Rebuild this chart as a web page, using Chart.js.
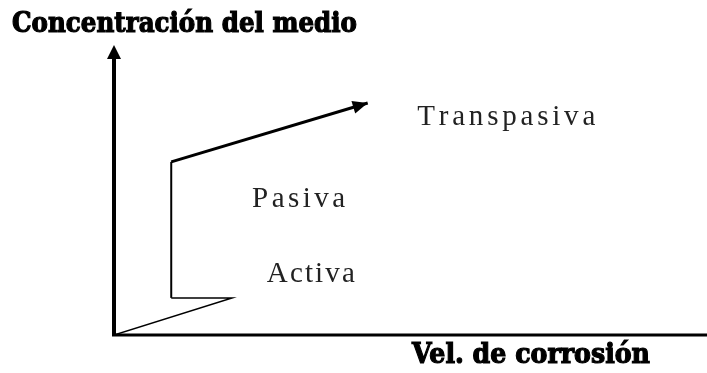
<!DOCTYPE html>
<html>
<head>
<meta charset="utf-8">
<script src="https://cdn.jsdelivr.net/npm/chart.js@4"></script>
<style>
  html, body { margin: 0; padding: 0; background: #fff; }
  canvas { display: block; }
</style>
</head>
<body>
<canvas id="chart" width="707" height="373"></canvas>
<script>
// curva de polarizacion (unidades arbitrarias, 0..100)
const velCorrosion = [0, 20, 9.7, 9.7, 43];
const concentracion = [0, 12.8, 12.8, 59.7, 80];
const zonas = ['Activa', 'Pasiva', 'Transpasiva'];
const zonaX = [25.9, 23.4, 51.4];
const zonaY = [18.3, 44.1, 72.4];
const tituloY = 'Concentración del medio';
const tituloX = 'Vel. de corrosión';

const puntos = velCorrosion.map((v, i) => ({x: v, y: concentracion[i]}));
const anchos = [1.5, 1.5, 2, 3];

function arrowHead(ctx, x, y, ang, len, w) {
  ctx.save();
  ctx.translate(x, y);
  ctx.rotate(ang);
  ctx.beginPath();
  ctx.moveTo(0, 0);
  ctx.lineTo(-len, -w / 2);
  ctx.lineTo(-len, w / 2);
  ctx.closePath();
  ctx.fillStyle = '#000';
  ctx.fill();
  ctx.restore();
}

// texto espaciado, ajustado a un ancho dado
function spacedText(ctx, txt, x, y, w) {
  const chars = [...txt];
  const nat = chars.reduce((s, ch) => s + ctx.measureText(ch).width, 0);
  const sp = (w - nat) / (chars.length - 1);
  for (const ch of chars) {
    ctx.fillText(ch, x, y);
    x += ctx.measureText(ch).width + sp;
  }
}

function fitText(ctx, txt, x, y, w) {
  const m = ctx.measureText(txt).width;
  ctx.save();
  ctx.translate(x, y);
  ctx.scale(w / m, 1);
  ctx.fillText(txt, 0, 0);
  ctx.strokeText(txt, 0, 0);
  ctx.restore();
}

const diagrama = {
  id: 'diagrama',
  beforeDatasetsDraw(chart) {
    const {ctx, chartArea: a} = chart;
    ctx.save();
    ctx.strokeStyle = '#000';
    // eje x
    ctx.lineWidth = 3;
    ctx.beginPath();
    ctx.moveTo(a.left - 2, a.bottom);
    ctx.lineTo(707, a.bottom);
    ctx.stroke();
    // eje y
    ctx.lineWidth = 4;
    ctx.beginPath();
    ctx.moveTo(a.left, a.bottom + 1);
    ctx.lineTo(a.left, a.top + 12);
    ctx.stroke();
    ctx.restore();
    arrowHead(ctx, a.left, a.top, -Math.PI / 2, 14, 14);
  },
  afterDatasetsDraw(chart) {
    const {ctx, scales: {x, y}} = chart;
    const pts = chart.getDatasetMeta(0).data;
    const p1 = pts[pts.length - 2], p2 = pts[pts.length - 1];
    const ang = Math.atan2(p2.y - p1.y, p2.x - p1.x);
    arrowHead(ctx, p2.x, p2.y, ang, 15, 13);

    const anchosZona = [88, 93, 178];
    ctx.save();
    ctx.fillStyle = '#222';
    ctx.textBaseline = 'alphabetic';
    ctx.font = '29px "Liberation Serif"';
    zonas.forEach((z, i) => {
      spacedText(ctx, z, x.getPixelForValue(zonaX[i]), y.getPixelForValue(zonaY[i]), anchosZona[i]);
    });
    ctx.fillStyle = '#000';
    ctx.strokeStyle = '#000';
    ctx.lineWidth = 1.2;
    ctx.font = 'bold 27px "DejaVu Serif"';
    fitText(ctx, tituloY, 12, 32, 345);
    fitText(ctx, tituloX, 412, 363, 238);
    ctx.restore();
  }
};

new Chart(document.getElementById('chart'), {
  type: 'scatter',
  data: {
    datasets: [{
      data: puntos,
      showLine: true,
      borderColor: '#000',
      borderWidth: 2,
      pointRadius: 0,
      fill: false,
      segment: {
        borderWidth: c => anchos[c.p0DataIndex]
      }
    }]
  },
  options: {
    responsive: false,
    animation: false,
    devicePixelRatio: 1,
    layout: { padding: { left: 114, right: 3, top: 45, bottom: 38 } },
    plugins: { legend: { display: false }, tooltip: { enabled: false } },
    scales: {
      x: { type: 'linear', min: 0, max: 100, display: false },
      y: { type: 'linear', min: 0, max: 100, display: false }
    }
  },
  plugins: [diagrama]
});
</script>
</body>
</html>
